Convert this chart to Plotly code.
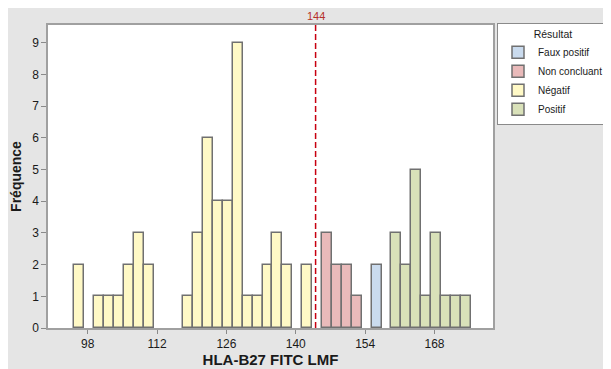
import plotly.graph_objects as go

# ---- data ----
categories = ["Faux positif", "Non concluant", "Négatif", "Positif"]

faux_positif_mid = [156.3]
faux_positif_count = [2]

non_concluant_mid = [146.3, 148.3, 150.3, 152.3]
non_concluant_count = [3, 2, 2, 1]

negatif_mid = [96.3, 100.3, 102.3, 104.3, 106.3, 108.3, 110.3, 118.3, 120.3,
               122.3, 124.3, 126.3, 128.3, 130.3, 132.3, 134.3, 136.3, 138.3, 142.3]
negatif_count = [2, 1, 1, 1, 2, 3, 2, 1, 3, 6, 4, 4, 9, 1, 1, 2, 3, 2, 2]

positif_mid = [160.3, 162.3, 164.3, 166.3, 168.3, 170.3, 172.3, 174.3]
positif_count = [3, 2, 5, 1, 3, 1, 1, 1]

bin_width = 2
ref_value = 144
x_ticks = [98, 112, 126, 140, 154, 168]
y_ticks = [0, 1, 2, 3, 4, 5, 6, 7, 8, 9]

series = [
    (categories[0], faux_positif_mid, faux_positif_count, "#CADBEE"),
    (categories[1], non_concluant_mid, non_concluant_count, "#E9BABA"),
    (categories[2], negatif_mid, negatif_count, "#FFF9C6"),
    (categories[3], positif_mid, positif_count, "#D9E1B9"),
]

FONT = "Liberation Sans, Arial, sans-serif"
W, H = 603, 361  # page body has an 8px margin inside the 611x369 window

fig = go.Figure()
for name, mids, counts, color in series:
    fig.add_trace(go.Bar(
        x=mids, y=counts, width=bin_width, name=name,
        marker=dict(color=color, line=dict(color="#707070", width=1.5)),
    ))

# reference line
fig.add_shape(type="line", xref="x", yref="paper", x0=ref_value, x1=ref_value,
              y0=0, y1=1, line=dict(color="#C80010", width=1.5, dash="6px,3px"))
fig.add_annotation(x=ref_value, xref="x", y=1, yref="paper", yanchor="bottom",
                   text=str(ref_value), showarrow=False, yshift=1,
                   font=dict(family=FONT, size=11, color="#B5302A"))

fig.update_layout(
    width=W, height=H,
    margin=dict(l=40, r=118, t=17, b=41, autoexpand=False),
    paper_bgcolor="#E5E5E5",
    plot_bgcolor="white",
    bargap=0,
    barmode="overlay",
    showlegend=True,
    font=dict(family=FONT, size=11, color="#1A1A1A"),
    legend=dict(
        title=dict(text="Résultat", side="top center",
                   font=dict(family=FONT, size=10.5, color="#1A1A1A")),
        xref="container", yref="container",
        x=489 / W, xanchor="left", y=1 - 15 / H, yanchor="top",
        bgcolor="white", bordercolor="#8A8A8A", borderwidth=1,
        font=dict(family=FONT, size=10, color="#1A1A1A"),
        traceorder="normal", itemwidth=30, tracegroupgap=0,
    ),
    xaxis=dict(
        range=[90.0, 179.8], tickvals=x_ticks, ticks="outside", ticklen=4,
        tickcolor="#8A8A8A", showgrid=False, zeroline=False,
        showline=True, linecolor="#A0A0A0", linewidth=1.5, mirror=True,
        tickfont=dict(size=12, color="#1A1A1A"),
        title=dict(text="HLA-B27 FITC LMF", standoff=4,
                   font=dict(family=FONT, size=15, color="#1A1A1A", weight="bold")),
    ),
    yaxis=dict(
        range=[0, 9.56], tickvals=y_ticks, ticks="outside", ticklen=5,
        tickcolor="#8A8A8A", showgrid=False, zeroline=False,
        showline=True, linecolor="#A0A0A0", linewidth=1.5, mirror=True,
        tickfont=dict(size=12, color="#1A1A1A"),
        title=dict(text="Fréquence", standoff=12,
                   font=dict(family=FONT, size=14, color="#1A1A1A", weight="bold")),
    ),
)

fig.write_html("out.html")
